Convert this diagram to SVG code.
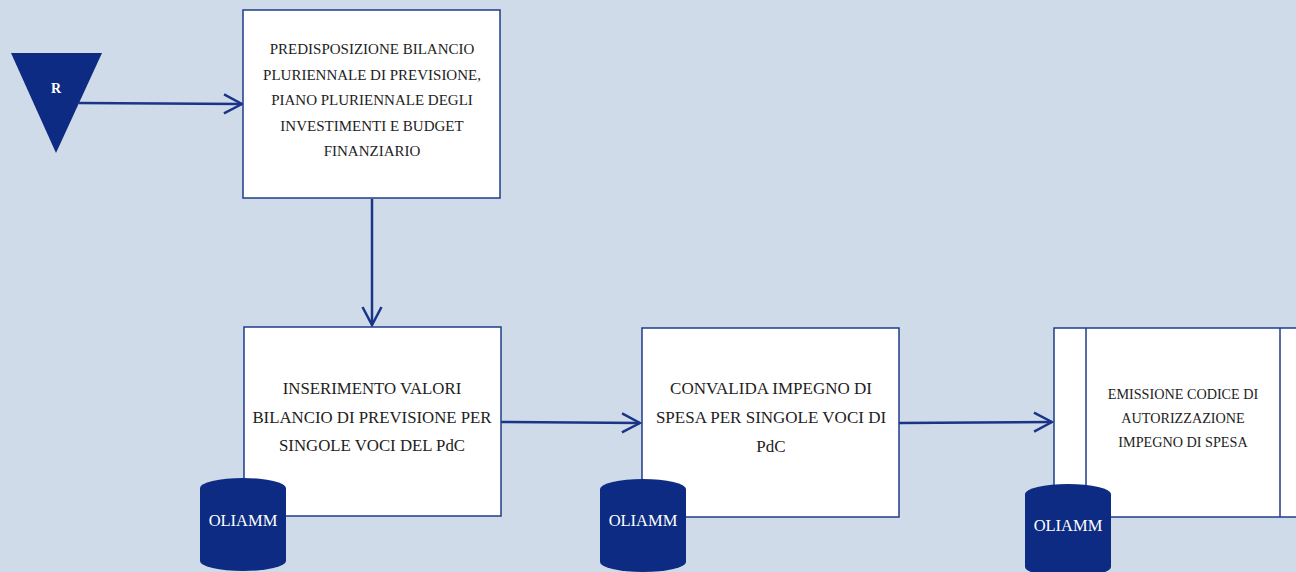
<svg xmlns="http://www.w3.org/2000/svg" width="1296" height="572" viewBox="0 0 1296 572">
<style>
.box{fill:#ffffff;stroke:#1f3c8c;stroke-width:1.5}
.conn{fill:none;stroke:#1a3488;stroke-width:2.5}
.t{font-family:"Liberation Serif",serif;fill:#222222;text-anchor:middle}
.db{fill:#0d2b82}
.dbt{font-family:"Liberation Serif",serif;fill:#ffffff;text-anchor:middle;font-size:16.5px}
</style>
<defs>
<marker id="arr" viewBox="0 0 22 22" refX="20" refY="11" markerWidth="22" markerHeight="22" markerUnits="userSpaceOnUse" orient="auto">
<path d="M2,1.5 L20,11 L2,20.5" fill="none" stroke="#1a3488" stroke-width="2.5"/>
</marker>
</defs>
<rect width="1296" height="572" fill="#cfdbe8"/>
<g id="connectors">
<line class="conn" x1="79" y1="103" x2="242" y2="104" marker-end="url(#arr)"/>
<line class="conn" x1="372" y1="199" x2="372" y2="325" marker-end="url(#arr)"/>
<line class="conn" x1="501" y1="422" x2="640" y2="423" marker-end="url(#arr)"/>
<line class="conn" x1="899" y1="423" x2="1052" y2="422" marker-end="url(#arr)"/>
</g>
<g id="start">
<polygon points="11,53 102,53 56,153" class="db"/>
<text x="56" y="93" font-family="Liberation Serif,serif" font-weight="bold" font-size="14" fill="#ffffff" text-anchor="middle">R</text>
</g>
<g id="n1">
<rect class="box" x="243" y="10" width="257" height="188"/>
<text class="t" font-size="15"><tspan x="372" y="54">PREDISPOSIZIONE BILANCIO</tspan><tspan x="372" y="79.5">PLURIENNALE DI PREVISIONE,</tspan><tspan x="372" y="105">PIANO PLURIENNALE DEGLI</tspan><tspan x="372" y="130.5">INVESTIMENTI E BUDGET</tspan><tspan x="372" y="156">FINANZIARIO</tspan></text>
</g>
<g id="n2">
<rect class="box" x="244" y="327" width="257" height="189"/>
<text class="t" font-size="16.8"><tspan x="372" y="394">INSERIMENTO VALORI</tspan><tspan x="372" y="422.5">BILANCIO DI PREVISIONE PER</tspan><tspan x="372" y="451">SINGOLE VOCI DEL PdC</tspan></text>
</g>
<g id="n3">
<rect class="box" x="642" y="328" width="257" height="189"/>
<text class="t" font-size="17"><tspan x="771" y="394">CONVALIDA IMPEGNO DI</tspan><tspan x="771" y="423">SPESA PER SINGOLE VOCI DI</tspan><tspan x="771" y="452">PdC</tspan></text>
</g>
<g id="n4">
<rect class="box" x="1054" y="328" width="260" height="189"/>
<line x1="1086" y1="328" x2="1086" y2="517" stroke="#1f3c8c" stroke-width="1.5"/>
<line x1="1280" y1="328" x2="1280" y2="517" stroke="#1f3c8c" stroke-width="1.5"/>
<text class="t" font-size="14.2"><tspan x="1183" y="399">EMISSIONE CODICE DI</tspan><tspan x="1183" y="423">AUTORIZZAZIONE</tspan><tspan x="1183" y="447">IMPEGNO DI SPESA</tspan></text>
</g>
<g id="db1">
<path class="db" d="M200,488 A43,10 0 0 1 286,488 L286,561 A43,10 0 0 1 200,561 Z"/>
<text class="dbt" x="243" y="526">OLIAMM</text>
</g>
<g id="db2">
<path class="db" d="M600,489 A43,10 0 0 1 686,489 L686,562 A43,10 0 0 1 600,562 Z"/>
<text class="dbt" x="643" y="526">OLIAMM</text>
</g>
<g id="db3">
<path class="db" d="M1025,494 A43,10 0 0 1 1111,494 L1111,567 A43,10 0 0 1 1025,567 Z"/>
<text class="dbt" x="1068" y="531">OLIAMM</text>
</g>
</svg>
